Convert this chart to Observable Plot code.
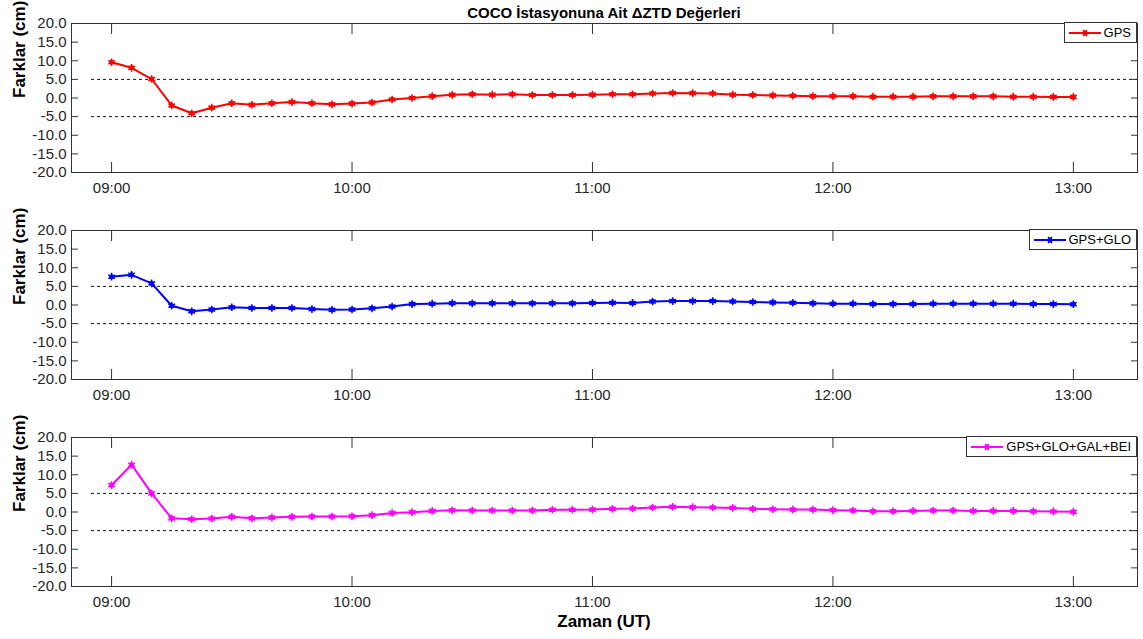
<!DOCTYPE html>
<html>
<head>
<meta charset="utf-8">
<script src="https://cdn.jsdelivr.net/npm/d3@7"></script>
<script src="https://cdn.jsdelivr.net/npm/@observablehq/plot@0.6"></script>
<style>
  body { margin: 0; background: #fff; font-family: "Liberation Sans", Arial, sans-serif; }
  #chart { position: relative; width: 1143px; height: 639px; overflow: hidden; }
  .panel { position: absolute; left: 0; }
  .title { position: absolute; left: 71px; width: 1066px; top: 4px; line-height: 18px;
           text-align: center; font-weight: bold; font-size: 15px; color: #000; }
  .xlabel { position: absolute; left: 71px; width: 1066px; top: 611px; line-height: 22px;
            text-align: center; font-weight: bold; font-size: 17px; color: #000; }
  .legend { position: absolute; right: 6px; height: 21px; box-sizing: border-box; background: #fff;
            border: 1px solid #333; display: flex; align-items: center; padding: 0 5px 0 4px;
            font-size: 13px; color: #000; white-space: nowrap; }
  .legend svg { margin-right: 3px; }
</style>
</head>
<body>
<div id="chart"></div>
<script>
// Sampling times (UT), one every five minutes
const times = [
  "09:00","09:05","09:10","09:15","09:20","09:25","09:30","09:35","09:40","09:45","09:50","09:55",
  "10:00","10:05","10:10","10:15","10:20","10:25","10:30","10:35","10:40","10:45","10:50","10:55",
  "11:00","11:05","11:10","11:15","11:20","11:25","11:30","11:35","11:40","11:45","11:50","11:55",
  "12:00","12:05","12:10","12:15","12:20","12:25","12:30","12:35","12:40","12:45","12:50","12:55",
  "13:00"
];

// ΔZTD differences (cm) for each constellation combination
const gps = [
  9.6, 8.1, 5.1, -2.0, -4.1, -2.6, -1.4, -1.8, -1.4, -1.1, -1.4, -1.7,
  -1.5, -1.2, -0.4, 0.0, 0.5, 0.85, 1.0, 0.9, 1.0, 0.8, 0.8, 0.8,
  0.9, 1.0, 1.0, 1.2, 1.35, 1.3, 1.2, 0.9, 0.8, 0.7, 0.6, 0.5,
  0.5, 0.5, 0.35, 0.35, 0.35, 0.45, 0.45, 0.45, 0.45, 0.35, 0.35, 0.3,
  0.3
];
const gpsGlo = [
  7.6, 8.1, 5.8, -0.2, -1.7, -1.2, -0.6, -0.8, -0.8, -0.8, -1.1, -1.3,
  -1.2, -0.9, -0.4, 0.25, 0.35, 0.5, 0.45, 0.45, 0.45, 0.45, 0.45, 0.45,
  0.55, 0.6, 0.55, 0.95, 1.05, 1.05, 1.05, 0.95, 0.8, 0.7, 0.6, 0.45,
  0.35, 0.35, 0.25, 0.25, 0.25, 0.35, 0.35, 0.35, 0.35, 0.35, 0.25, 0.25,
  0.2
];
const gpsGloGalBei = [
  7.2, 12.7, 5.0, -1.7, -1.95, -1.75, -1.3, -1.7, -1.5, -1.3, -1.2, -1.2,
  -1.15, -0.85, -0.25, -0.05, 0.3, 0.45, 0.4, 0.4, 0.4, 0.4, 0.6, 0.6,
  0.65, 0.85, 0.95, 1.2, 1.4, 1.3, 1.2, 1.1, 0.85, 0.75, 0.65, 0.65,
  0.5, 0.4, 0.2, 0.2, 0.3, 0.4, 0.4, 0.3, 0.3, 0.3, 0.2, 0.15,
  0.05
];

const seriesNames = ["GPS", "GPS+GLO", "GPS+GLO+GAL+BEI"];
const seriesColors = ["#ff0000", "#0000ff", "#ff00ff"];
const seriesValues = [gps, gpsGlo, gpsGloGalBei];

const yTicks = [-20, -15, -10, -5, 0, 5, 10, 15, 20];
const hourTicks = ["09:00", "10:00", "11:00", "12:00", "13:00"];
const xExtent = ["08:50", "13:16"];
const refLevels = [5, -5];
const refStart = "08:55";

const titleText = "COCO İstasyonuna Ait ΔZTD Değerleri";
const yLabel = "Farklar (cm)";
const xLabel = "Zaman (UT)";

// clock string -> minutes after midnight
const toMin = (s) => { const [h, m] = s.split(":").map(Number); return h * 60 + m; };
const fmtClock = (m) => String(Math.floor(m / 60)).padStart(2, "0") + ":" + String(m % 60).padStart(2, "0");

const chart = document.getElementById("chart");
const panelTops = [0, 207, 414];
const frameInk = "#333";

function drawPanel(k) {
  const color = seriesColors[k];
  const data = times.map((t, i) => ({t: toMin(t), v: seriesValues[k][i]}));
  const hourMins = hourTicks.map(toMin);
  const svg = Plot.plot({
    width: 1143,
    height: 207,
    marginLeft: 71,
    marginRight: 6,
    marginTop: 23,
    marginBottom: 35,
    style: {fontFamily: "'Liberation Sans', Arial, sans-serif", fontSize: "15px", color: "#262626", background: "transparent", overflow: "visible"},
    x: {type: "linear", domain: xExtent.map(toMin)},
    y: {domain: [-20, 20]},
    marks: [
      Plot.ruleY(refLevels, {x1: toMin(refStart), x2: toMin(xExtent[1]), stroke: "#111", strokeWidth: 1, strokeDasharray: "3,3"}),
      Plot.frame({stroke: frameInk, strokeWidth: 1}),
      Plot.axisY(yTicks, {anchor: "left", tickSize: 0, tickPadding: 5, tickFormat: (d) => d.toFixed(1), label: null}),
      Plot.axisY(yTicks, {anchor: "left", tickSize: -7, fill: "none", stroke: frameInk, label: null}),
      Plot.axisY(yTicks, {anchor: "right", tickSize: -7, fill: "none", stroke: frameInk, label: null}),
      Plot.axisX(hourMins, {anchor: "bottom", tickSize: 0, tickPadding: 10, tickFormat: fmtClock, label: null}),
      Plot.axisX(hourMins, {anchor: "bottom", tickSize: -10, fill: "none", stroke: frameInk, label: null}),
      Plot.axisX(hourMins, {anchor: "top", tickSize: -10, fill: "none", stroke: frameInk, label: null}),
      Plot.line(data, {x: "t", y: "v", stroke: color, strokeWidth: 2}),
      Plot.dot(data, {x: "t", y: "v", symbol: "asterisk", r: 3.6, stroke: color, strokeWidth: 1.5}),
      Plot.dot(data, {x: "t", y: "v", r: 2.5, fill: color}),
      Plot.text([yLabel], {frameAnchor: "left", rotate: -90, dx: -52, fontWeight: "bold", fontSize: 17, fill: "#000"})
    ]
  });
  svg.classList.add("panel");
  svg.style.top = panelTops[k] + "px";
  chart.appendChild(svg);

  // legend box in the upper right corner of the panel
  const lg = document.createElement("div");
  lg.className = "legend";
  lg.style.top = (panelTops[k] + 22) + "px";
  const sw = d3.create("svg").attr("width", 32).attr("height", 12);
  sw.append("line").attr("x1", 0).attr("x2", 32).attr("y1", 6).attr("y2", 6)
    .attr("stroke", color).attr("stroke-width", 2);
  sw.append("path").attr("transform", "translate(16,6)")
    .attr("d", "M-3.6,0H3.6M-1.8,-3.1L1.8,3.1M-1.8,3.1L1.8,-3.1")
    .attr("stroke", color).attr("stroke-width", 1.5);
  sw.append("circle").attr("cx", 16).attr("cy", 6).attr("r", 2.5).attr("fill", color);
  lg.appendChild(sw.node());
  const span = document.createElement("span");
  span.textContent = seriesNames[k];
  lg.appendChild(span);
  chart.appendChild(lg);
}

seriesNames.forEach((_, k) => drawPanel(k));

const title = document.createElement("div");
title.className = "title";
title.textContent = titleText;
chart.appendChild(title);

const xl = document.createElement("div");
xl.className = "xlabel";
xl.textContent = xLabel;
chart.appendChild(xl);
</script>
</body>
</html>
